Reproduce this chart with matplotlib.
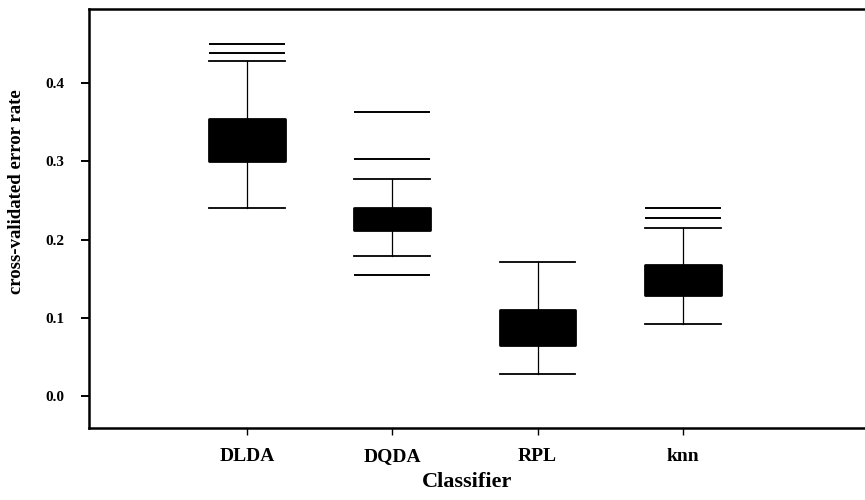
import matplotlib
matplotlib.use("Agg")
import matplotlib.pyplot as plt

# cross-validated error rate summaries per classifier
classifiers = ["DLDA", "DQDA", "RPL", "knn"]
q1 = [0.300, 0.212, 0.065, 0.129]
q3 = [0.354, 0.240, 0.110, 0.167]
medians = [0.325, 0.226, 0.086, 0.148]
whisk_lo = [0.240, 0.179, 0.028, 0.092]
whisk_hi = [0.428, 0.277, 0.171, 0.215]
outliers = [
    [0.439, 0.450],
    [0.155, 0.303, 0.363],
    [],
    [0.228, 0.240],
]

stats = []
for i, name in enumerate(classifiers):
    stats.append(dict(label=name, q1=q1[i], q3=q3[i], med=medians[i],
                      whislo=whisk_lo[i], whishi=whisk_hi[i],
                      fliers=outliers[i]))

plt.rcParams['font.family'] = ['Liberation Serif', 'DejaVu Serif']
plt.rcParams['font.weight'] = 'bold'

fig = plt.figure(figsize=(8.65, 5), dpi=100)
# frame runs off the right edge, so the right spine is never seen
ax = fig.add_axes([0.1029, 0.144, 0.95, 0.838])

ax.bxp(stats, positions=[1, 2, 3, 4], widths=0.52, capwidths=0.52,
       patch_artist=True,
       boxprops=dict(facecolor='black', edgecolor='black', linewidth=2,
                     joinstyle='round'),
       medianprops=dict(color='black', linewidth=1),
       whiskerprops=dict(color='black', linewidth=0.9),
       capprops=dict(color='black', linewidth=1.3),
       flierprops=dict(marker='_', markersize=55, markeredgewidth=1.4,
                       markeredgecolor='black'))

ax.set_xlim(-0.087, -0.087 + 821.75 / 145.3)
ax.set_ylim(-0.0409, 0.4946)
ax.set_yticks([0.0, 0.1, 0.2, 0.3, 0.4])
ax.set_yticklabels(["0.0", "0.1", "0.2", "0.3", "0.4"], fontsize=11,
                   fontweight='bold')
ax.set_xticks([1, 2, 3, 4])
ax.set_xticklabels(classifiers, fontsize=14, fontweight='bold',
                   va='baseline')

for side in ['left', 'bottom', 'top']:
    ax.spines[side].set_linewidth(1.8)
ax.spines['right'].set_visible(False)
ax.tick_params(axis='y', length=6, width=1.4, pad=12)
ax.tick_params(axis='x', length=5, width=1.0, pad=19)

ax.set_xlabel("Classifier", fontsize=16, fontweight='bold')
ax.xaxis.set_label_coords(0.46, -0.105)
ax.set_ylabel("cross-validated error rate", fontsize=13.5, fontweight='bold')
ax.yaxis.set_label_coords(-0.078, 0.563)

fig.savefig("out.png", dpi=100)
